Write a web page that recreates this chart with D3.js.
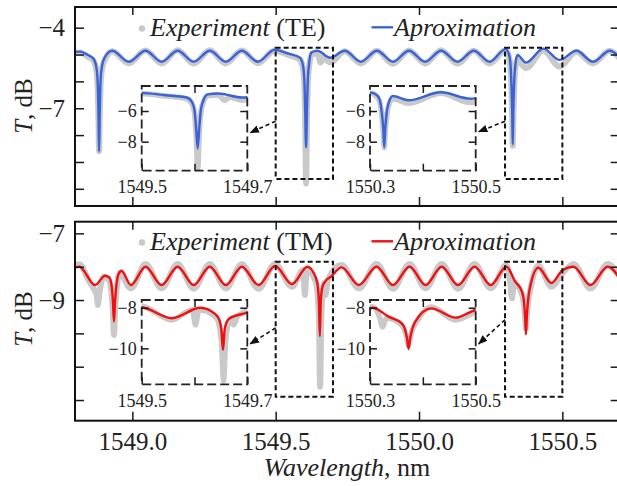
<!DOCTYPE html>
<html><head><meta charset="utf-8">
<title>TE / TM transmission spectra</title>
<script src="https://cdn.jsdelivr.net/npm/d3@7/dist/d3.min.js"></script>
<style>
  body { margin: 0; background: #fff; }
  svg { display: block; font-family: "Liberation Serif", "Times New Roman", serif; }
  .tick line { stroke: #1a1a1a; stroke-width: 1.5; }
  .tick text { fill: #222; }
</style>
</head>
<body>
<script>
// ---- data (wavelength nm, transmission dB) ----
var xTicks = [1549.0, 1549.5, 1550.0, 1550.5];
var teTicks = [-4, -5, -6, -7, -8, -9, -10], teLabels = [-4, -7];
var tmTicks = [-7, -8, -9, -10, -11, -12], tmLabels = [-7, -9];
var zoomWindows = [[1549.5, 1549.7], [1550.3, 1550.5]];
var teZoomT = [-9.63, -4.75], tmZoomT = [-11.9, -7.85];
var teInsetTicks = [-6, -8], tmInsetTicks = [-8, -10];

var teFit = [
  [1548.800,-4.90],[1548.818,-4.89],[1548.845,-5.02],[1548.864,-5.15],[1548.874,-5.45],[1548.879,-6.0],
  [1548.882,-7.3],[1548.884,-8.61],[1548.886,-7.3],[1548.889,-6.0],[1548.894,-5.45],[1548.904,-5.1],
  [1548.930,-4.86],[1548.987,-5.27],[1549.046,-4.86],[1549.102,-5.27],[1549.158,-4.86],[1549.214,-5.27],
  [1549.270,-4.86],[1549.326,-5.27],[1549.382,-4.86],[1549.438,-5.27],[1549.496,-4.82],[1549.545,-4.97],
  [1549.585,-5.12],[1549.595,-5.4],[1549.600,-5.95],[1549.603,-7.1],[1549.606,-8.45],[1549.609,-7.1],
  [1549.612,-5.95],[1549.617,-5.3],[1549.625,-4.92],[1549.645,-4.86],[1549.690,-5.12],[1549.741,-4.86],
  [1549.797,-5.27],[1549.853,-4.86],[1549.909,-5.27],[1549.965,-4.86],[1550.021,-5.27],[1550.077,-4.86],
  [1550.134,-5.27],[1550.191,-4.86],[1550.246,-5.27],[1550.302,-4.80],[1550.314,-5.0],[1550.319,-5.35],
  [1550.322,-6.0],[1550.325,-7.1],[1550.327,-8.35],[1550.329,-7.1],[1550.332,-6.0],[1550.336,-5.4],
  [1550.343,-5.02],[1550.373,-5.3],[1550.434,-4.78],[1550.490,-5.2],[1550.549,-4.86],[1550.607,-5.27],
  [1550.665,-4.86],[1550.700,-5.1]
];
var teExp = [
  [1548.800,-4.95],[1548.818,-4.92],[1548.845,-5.08],[1548.864,-5.22],[1548.874,-5.55],[1548.879,-6.2],
  [1548.882,-7.4],[1548.884,-8.6],[1548.886,-7.4],[1548.889,-6.2],[1548.894,-5.55],[1548.904,-5.2],
  [1548.930,-4.88],[1548.987,-5.33],[1549.046,-4.85],[1549.102,-5.33],[1549.158,-4.84],[1549.214,-5.34],
  [1549.270,-4.84],[1549.326,-5.33],[1549.382,-4.85],[1549.438,-5.32],[1549.496,-4.86],[1549.545,-5.02],
  [1549.585,-5.2],[1549.595,-5.5],[1549.600,-6.1],[1549.603,-7.5],[1549.606,-9.8],[1549.609,-7.5],
  [1549.612,-6.1],[1549.617,-5.4],[1549.625,-5.0],[1549.645,-4.95],[1549.657,-5.3],[1549.666,-5.1],
  [1549.690,-5.3],[1549.741,-4.88],[1549.797,-5.33],[1549.853,-4.86],[1549.909,-5.34],[1549.965,-4.85],
  [1550.021,-5.33],[1550.077,-4.84],[1550.134,-5.34],[1550.191,-4.86],[1550.246,-5.33],[1550.302,-4.84],
  [1550.314,-5.1],[1550.319,-5.5],[1550.322,-6.2],[1550.325,-7.3],[1550.327,-8.4],[1550.329,-7.3],
  [1550.332,-6.2],[1550.336,-5.55],[1550.343,-5.2],[1550.373,-5.5],[1550.434,-4.85],[1550.490,-5.45],
  [1550.549,-4.9],[1550.607,-5.33],[1550.665,-4.86],[1550.700,-5.15]
];
var tmFit = [
  [1548.800,-8.02],[1548.815,-8.0],[1548.870,-8.55],[1548.905,-8.27],[1548.920,-8.33],[1548.928,-8.6],
  [1548.932,-9.0],[1548.936,-9.65],[1548.940,-9.0],[1548.944,-8.6],[1548.952,-8.22],[1548.962,-8.12],
  [1548.995,-8.55],[1549.046,-8.0],[1549.102,-8.55],[1549.158,-8.0],[1549.214,-8.55],[1549.270,-8.0],
  [1549.326,-8.55],[1549.382,-8.0],[1549.440,-8.55],[1549.498,-7.98],[1549.557,-8.52],[1549.611,-8.0],
  [1549.640,-8.33],[1549.647,-8.6],[1549.651,-9.1],[1549.654,-10.08],[1549.657,-9.1],[1549.661,-8.7],
  [1549.668,-8.5],[1549.695,-8.28],[1549.730,-8.02],[1549.790,-8.55],[1549.852,-8.0],[1549.909,-8.55],
  [1549.967,-8.0],[1550.023,-8.55],[1550.079,-8.0],[1550.136,-8.55],[1550.194,-8.0],[1550.250,-8.55],
  [1550.305,-8.0],[1550.335,-8.44],[1550.360,-8.77],[1550.366,-9.05],[1550.370,-9.5],[1550.373,-10.03],
  [1550.376,-9.5],[1550.380,-9.05],[1550.386,-8.67],[1550.416,-8.03],[1550.462,-8.49],[1550.500,-8.11],
  [1550.539,-8.0],[1550.598,-8.55],[1550.658,-8.0],[1550.700,-8.35]
];
var tmExp = [
  [1548.800,-7.95],[1548.815,-7.93],[1548.850,-8.45],[1548.868,-8.7],[1548.876,-8.85],[1548.880,-9.15],
  [1548.885,-8.8],[1548.900,-8.3],[1548.918,-8.4],[1548.927,-8.75],[1548.932,-9.3],[1548.936,-10.05],
  [1548.940,-9.3],[1548.945,-8.7],[1548.955,-8.2],[1548.995,-8.65],[1549.046,-7.92],[1549.102,-8.65],
  [1549.158,-7.92],[1549.214,-8.66],[1549.270,-7.92],[1549.326,-8.65],[1549.382,-7.93],[1549.440,-8.66],
  [1549.498,-7.92],[1549.557,-8.6],[1549.596,-8.1],[1549.602,-8.85],[1549.608,-8.1],[1549.640,-8.45],
  [1549.647,-8.9],[1549.651,-9.6],[1549.655,-11.6],[1549.659,-9.6],[1549.663,-8.9],[1549.669,-8.5],
  [1549.674,-8.85],[1549.682,-8.4],[1549.730,-7.95],[1549.790,-8.65],[1549.852,-7.92],[1549.909,-8.66],
  [1549.967,-7.92],[1550.023,-8.65],[1550.079,-7.92],[1550.136,-8.66],[1550.194,-7.92],[1550.250,-8.65],
  [1550.305,-7.95],[1550.318,-8.45],[1550.324,-8.95],[1550.331,-8.5],[1550.360,-8.85],[1550.366,-9.15],
  [1550.370,-9.5],[1550.373,-9.85],[1550.376,-9.5],[1550.380,-9.1],[1550.388,-8.7],[1550.416,-7.97],
  [1550.462,-8.6],[1550.500,-8.2],[1550.539,-7.92],[1550.598,-8.65],[1550.658,-7.92],[1550.700,-8.3]
];

//begin: layout conf.
var W = 617, H = 486,
    left = 75, right = 619.7,
    serif = "'Liberation Serif', 'Times New Roman', serif",
    grey = "#c9c9c9", blue = "#3b63d8", red = "#f01010";
//end: layout conf.

var svg = d3.select("body").append("svg").attr("width", W).attr("height", H);
var defs = svg.append("defs");
defs.append("marker").attr("id", "head")
    .attr("viewBox", "0 0 10 10").attr("refX", 9).attr("refY", 5)
    .attr("markerWidth", 6).attr("markerHeight", 6).attr("orient", "auto")
  .append("path").attr("d", "M0,1 L10,5 L0,9 z").attr("fill", "#111");

var x = d3.scaleLinear().domain([1548.8, 1550.7]).range([left, right]);
var yTE = d3.scaleLinear().domain([-10.64, -3.23]).range([206, 7]);
var yTM = d3.scaleLinear().domain([-12.62, -6.65]).range([420.7, 221.7]);

var clipN = 0;
function clip(x0, y0, w, h) {
  var id = "clip" + (clipN++);
  defs.append("clipPath").attr("id", id).append("rect")
    .attr("x", x0).attr("y", y0).attr("width", w).attr("height", h);
  return "url(#" + id + ")";
}

function curves(g, xs, ys, exp, fit, color, greyW) {
  var line = d3.line().x(function(d){ return xs(d[0]); }).y(function(d){ return ys(d[1]); })
    .curve(d3.curveMonotoneX);
  g.append("path").attr("d", line(exp)).attr("fill", "none")
    .attr("stroke", grey).attr("stroke-width", greyW).attr("stroke-linejoin", "round");
  g.append("path").attr("d", line(fit)).attr("fill", "none")
    .attr("stroke", color).attr("stroke-width", 2.4).attr("stroke-linejoin", "round");
}

function styleAxis(g, size) {
  g.attr("font-family", serif).attr("font-size", size);
  g.select(".domain").remove();
  g.selectAll("text").style("font-family", serif).style("font-size", size + "px");
}

function panel(o) {
  var y = o.y, y0 = y.range()[1], y1 = y.range()[0];
  var g = svg.append("g");
  curves(g.append("g").attr("clip-path", clip(left, y0, right - left, y1 - y0)),
         x, y, o.exp, o.fit, o.color, 6);

  // zoom windows on the main curve
  zoomWindows.forEach(function(w){
    g.append("rect")
      .attr("x", x(w[0])).attr("y", y(o.zoomT[1]))
      .attr("width", x(w[1]) - x(w[0])).attr("height", y(o.zoomT[0]) - y(o.zoomT[1]))
      .attr("fill", "none").attr("stroke", "#111").attr("stroke-width", 2)
      .attr("stroke-dasharray", "5,3");
  });

  var fmt = d3.format("d");
  g.append("g").attr("transform", "translate(" + left + ",0)")
    .call(d3.axisLeft(y).tickValues(o.ticks).tickSize(-9).tickPadding(10)
      .tickFormat(function(d){ return o.labels.indexOf(d) >= 0 ? fmt(d) : ""; }))
    .call(styleAxis, 25);
  g.append("g").attr("transform", "translate(" + right + ",0)")
    .call(d3.axisRight(y).tickValues(o.ticks).tickSize(-9).tickFormat(""))
    .call(styleAxis, 25);
  g.append("g").attr("transform", "translate(0," + y0 + ")")
    .call(d3.axisTop(x).tickValues(xTicks).tickSize(-8).tickFormat(""))
    .call(styleAxis, 25);
  g.append("g").attr("transform", "translate(0," + y1 + ")")
    .call(d3.axisBottom(x).tickValues(xTicks).tickSize(-9).tickPadding(12)
      .tickFormat(o.xLabels ? d3.format(".1f") : ""))
    .call(styleAxis, 25);

  g.append("rect").attr("x", left).attr("y", y0)
    .attr("width", right - left).attr("height", y1 - y0)
    .attr("fill", "none").attr("stroke", "#111").attr("stroke-width", 2);

  // y title
  var t = g.append("text").attr("transform", "translate(32," + o.titleY + ") rotate(-90)")
    .attr("text-anchor", "middle").style("font-size", "25px").attr("fill", "#222");
  t.append("tspan").style("font-style", "italic").text("T");
  t.append("tspan").text(", dB");

  // legend
  var ly = o.legendY;
  g.append("circle").attr("cx", 142).attr("cy", ly - 7.5).attr("r", 3.2).attr("fill", grey);
  var l1 = g.append("text").attr("x", 150).attr("y", ly).style("font-size", "26px").attr("fill", "#222");
  l1.append("tspan").style("font-style", "italic").text("Experiment");
  l1.append("tspan").text(" (" + o.mode + ")");
  g.append("line").attr("x1", 371.5).attr("x2", 393).attr("y1", ly - 8.7).attr("y2", ly - 8.7)
    .attr("stroke", o.color).attr("stroke-width", 2.4);
  g.append("text").attr("x", 394).attr("y", ly).style("font-size", "26px").attr("fill", "#222")
    .style("font-style", "italic").text("Aproximation");

  // insets
  o.insets.forEach(function(b, i){
    var w = zoomWindows[i];
    var xi = d3.scaleLinear().domain(w).range([b[0], b[1]]);
    var yi = d3.scaleLinear().domain(o.insetT).range([b[3], b[2]]);
    var gi = g.append("g");
    gi.append("rect").attr("x", b[0]).attr("y", b[2]).attr("width", b[1] - b[0])
      .attr("height", b[3] - b[2]).attr("fill", "#fff");
    curves(gi.append("g").attr("clip-path", clip(b[0], b[2], b[1] - b[0], b[3] - b[2])),
           xi, yi, o.exp, o.fit, o.color, 5.5);
    var mid = (w[0] + w[1]) / 2;
    gi.append("g").attr("transform", "translate(" + b[0] + ",0)")
      .call(d3.axisLeft(yi).tickValues(o.insetTicks).tickSize(-7).tickPadding(5).tickFormat(fmt))
      .call(styleAxis, 18);
    gi.append("g").attr("transform", "translate(" + b[1] + ",0)")
      .call(d3.axisRight(yi).tickValues(o.insetTicks).tickSize(-7).tickFormat(""))
      .call(styleAxis, 18);
    gi.append("g").attr("transform", "translate(0," + b[2] + ")")
      .call(d3.axisTop(xi).tickValues([mid]).tickSize(-7).tickFormat(""))
      .call(styleAxis, 18);
    gi.append("g").attr("transform", "translate(0," + b[3] + ")")
      .call(d3.axisBottom(xi).tickValues([w[0], mid, w[1]]).tickSize(-7).tickPadding(10)
        .tickFormat(function(d){ return d === mid ? "" : d3.format(".1f")(d); }))
      .call(styleAxis, 18);
    gi.append("rect").attr("x", b[0]).attr("y", b[2]).attr("width", b[1] - b[0])
      .attr("height", b[3] - b[2]).attr("fill", "none").attr("stroke", "#222")
      .attr("stroke-width", 1.8).attr("stroke-dasharray", "9,4");

    // dashed arrow from zoom window to inset
    var zTop = y(o.zoomT[1]), zBot = y(o.zoomT[0]);
    g.append("line")
      .attr("x1", x(w[0])).attr("y1", zTop + o.arrowFrom[i] * (zBot - zTop))
      .attr("x2", b[1] + 3).attr("y2", b[2] + o.arrowTo[i] * (b[3] - b[2]))
      .attr("stroke", "#111").attr("stroke-width", 1.6).attr("stroke-dasharray", "4,3")
      .attr("marker-end", "url(#head)");
  });
}

panel({
  y: yTE, exp: teExp, fit: teFit, color: blue, mode: "TE",
  ticks: teTicks, labels: teLabels, zoomT: teZoomT, xLabels: false,
  titleY: 106, legendY: 36,
  insets: [[141.7, 247.3, 86, 170.7], [370, 475.7, 86, 170.7]],
  insetT: [-9.89, -4.37], insetTicks: teInsetTicks,
  arrowFrom: [0.56, 0.56], arrowTo: [0.55, 0.54]
});
panel({
  y: yTM, exp: tmExp, fit: tmFit, color: red, mode: "TM",
  ticks: tmTicks, labels: tmLabels, zoomT: tmZoomT, xLabels: true,
  titleY: 319, legendY: 250,
  insets: [[141.7, 247.3, 300, 384.3], [370, 475.7, 300, 384.3]],
  insetT: [-11.77, -7.62], insetTicks: tmInsetTicks,
  arrowFrom: [0.49, 0.43], arrowTo: [0.52, 0.52]
});

// x title
var xt = svg.append("text").attr("x", 347).attr("y", 476).attr("text-anchor", "middle")
  .style("font-size", "26px").attr("fill", "#222");
xt.append("tspan").style("font-style", "italic").text("Wavelength");
xt.append("tspan").text(", nm");
</script>
</body></html>
